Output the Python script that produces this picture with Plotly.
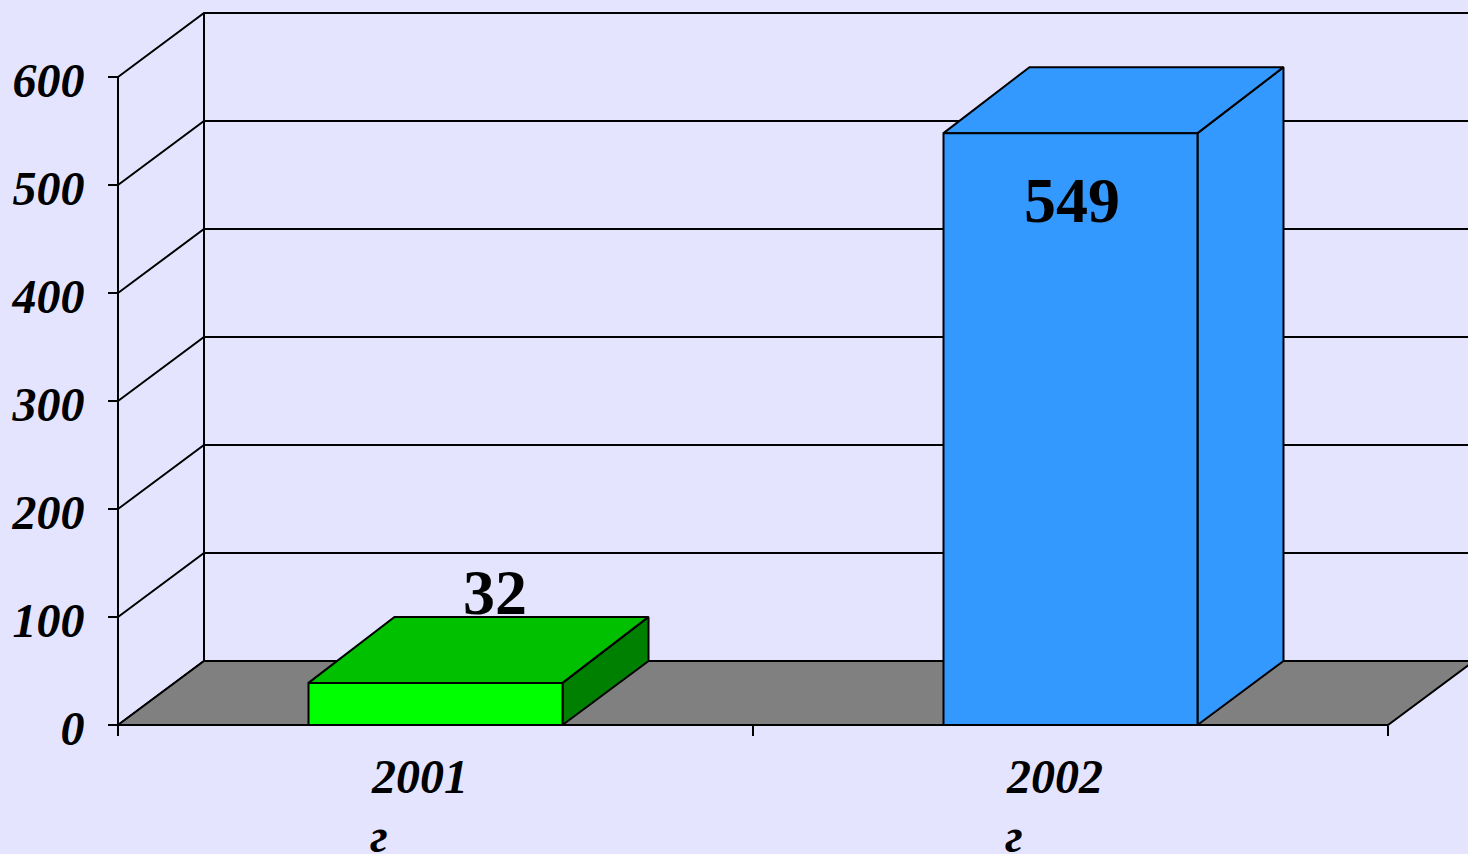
import plotly.graph_objects as go

# Data
categories = ["2001", "2002"]
category_unit = "г"
value_labels = [32, 549]
bar_heights = [39, 548]  # drawn height
y_ticks = [0, 100, 200, 300, 400, 500, 600]
bar_fronts = ["#00FF00", "#3399FF"]
bar_tops = ["#00C000", "#3399FF"]
bar_sides = ["#008000", "#3399FF"]

# Geometry in axis units
PX_X = 635.0
PX_Y = 1.08
DX = 86 / PX_X
DY = 64 / PX_Y
BAR_DY = 66 / PX_Y
N = len(categories)
BAR_W = 0.4
BG = "#E4E4FF"
FONT = "Liberation Serif"
LINE = dict(color="black", width=2)

fig = go.Figure()


def poly(xs, ys, fill=None, line=LINE):
    fig.add_trace(go.Scatter(
        x=xs, y=ys, mode="lines", line=line,
        fill="toself" if fill else None, fillcolor=fill,
        hoverinfo="skip", showlegend=False))


# Back wall grid and side wall
for t in y_ticks:
    poly([0, DX, N + DX + 0.2], [t, t + DY, t + DY])
poly([DX, DX], [DY, max(y_ticks) + DY])
poly([0, 0], [0, max(y_ticks)])

# Floor
poly([0, N, N + DX, DX, 0], [0, 0, DY, DY, 0], fill="#808080")

# Bars
for i, h in enumerate(bar_heights):
    x0 = i + 0.5 - BAR_W / 2
    x1 = i + 0.5 + BAR_W / 2
    poly([x1, x1 + DX, x1 + DX, x1, x1], [0, DY, h + BAR_DY, h, 0], fill=bar_sides[i])
    poly([x0, x1, x1 + DX, x0 + DX, x0], [h, h, h + BAR_DY, h + BAR_DY, h], fill=bar_tops[i])
    poly([x0, x1, x1, x0, x0], [0, 0, h, h, 0], fill=bar_fronts[i])

# Value labels
label_pos = [(0.5 + 0.094, bar_heights[0] + 84), (1.5 + 0.002, bar_heights[1] - 62)]
for v, (lx, ly) in zip(value_labels, label_pos):
    fig.add_annotation(x=lx, y=ly, text=str(v), showarrow=False, xanchor="center", yanchor="middle",
                       font=dict(family=FONT, size=64, color="black", weight="bold"))

# Category labels (wrapped, left aligned)
for i, c in enumerate(categories):
    fig.add_annotation(x=i + 0.395, y=-48, text=f"<b><i>{c}</i></b>", showarrow=False,
                       xanchor="left", yanchor="middle",
                       font=dict(family=FONT, size=48, color="black"))
    fig.add_annotation(x=i + 0.393, y=-102, text=f"<b><i>{category_unit}</i></b>", showarrow=False,
                       xanchor="left", yanchor="middle",
                       font=dict(family=FONT, size=48, color="black"))

fig.update_layout(
    width=1468, height=854,
    margin=dict(l=0, r=0, t=0, b=0),
    paper_bgcolor=BG, plot_bgcolor=BG,
    showlegend=False,
    xaxis=dict(range=[-118 / PX_X, 1350 / PX_X], anchor="free", position=129 / 854,
               tickvals=list(range(N + 1)), ticktext=[""] * (N + 1),
               ticks="outside", ticklen=10, tickwidth=2, tickcolor="black",
               showgrid=False, zeroline=False, showline=False),
    yaxis=dict(range=[-129 / PX_Y, 725 / PX_Y], anchor="free", position=118 / 1468,
               tickvals=y_ticks, ticktext=[f"<b><i>{t}</i></b>" for t in y_ticks],
               ticks="outside", ticklen=10, tickwidth=2,
               tickcolor="black", showgrid=False, zeroline=False, showline=False,
               ticklabelstandoff=14, ticklabelshift=3,
               tickfont=dict(family=FONT, size=48, color="black")),
)

fig.write_html("out.html", config={"displayModeBar": False},
               post_script="document.body.style.margin='0';document.body.style.overflow='hidden';")
